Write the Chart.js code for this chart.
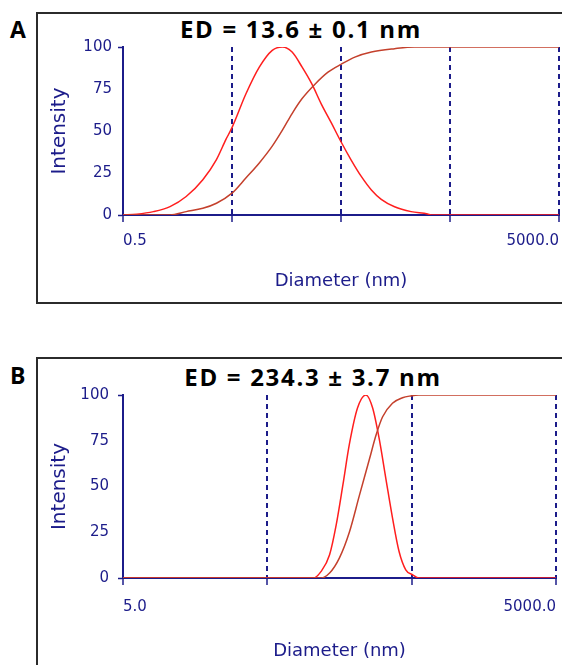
<!DOCTYPE html>
<html lang="en">
<head>
<meta charset="UTF-8">
<title>Size distribution</title>
<script src="https://cdn.jsdelivr.net/npm/chart.js"></script>
<style>
    body {
        margin: 0;
        width: 562px;
        height: 665px;
        overflow: hidden;
        background: #fff;
        position: relative;
        font-family: "Open Sans", Lato, sans-serif;
    }
    .box {
        position: absolute;
        left: 36px;
        width: 600px;
        border: 2px solid #2b2b2b;
        box-sizing: border-box;
    }
    #boxA { top: 12px; height: 292px; }
    #boxB { top: 357px; height: 400px; }
    .letter {
        position: absolute;
        left: 10px;
        font-weight: bold;
        font-size: 23px;
        line-height: 1;
    }
    .ed {
        position: absolute;
        font-weight: bold;
        font-size: 24px;
        letter-spacing: 1.7px;
        line-height: 1;
        white-space: nowrap;
        transform: translateX(-50%);
    }
    canvas { position: absolute; left: 0; }
</style>
</head>
<body>
    <div class="box" id="boxA"></div>
    <div class="box" id="boxB"></div>
    <div class="letter" style="top:18px">A</div>
    <div class="letter" style="top:364px">B</div>
    <div class="ed" style="left:301px; top:17px">ED = 13.6 ± 0.1 nm</div>
    <div class="ed" style="left:313px; top:365px">ED = 234.3 ± 3.7 nm</div>
    <canvas id="chartA" width="562" height="300" style="top:0"></canvas>
    <canvas id="chartB" width="562" height="315" style="top:350px"></canvas>

<script>
    // panel A (ED = 13.6 nm): intensity distribution and cumulative curve
    const diamA = [0.5, 0.67, 0.95, 1.35, 1.9, 2.7, 3.6, 4.4, 5, 6.7, 8.9, 11.7, 14.5, 17.8, 22, 27, 33, 41, 50, 62, 77, 95, 117, 155, 220, 312, 334, 5000];
    const intensA = [0, 0.5, 2, 5, 11, 21, 33, 45, 52, 72, 88, 98, 100, 97, 88, 78, 66, 54.5, 43.6, 32.7, 22.8, 14.9, 9.3, 4.9, 2, 0.6, 0, 0];
    const cumDiamA = [0.5, 1.35, 1.9, 2.7, 3.6, 5, 6.7, 8.9, 11.7, 14.5, 17.8, 22, 29, 38, 50, 67, 95, 155, 236, 5000];
    const cumA = [0, 0, 2, 4, 7, 13, 22, 31, 41, 50.5, 60.4, 69.3, 78, 85, 89.7, 94, 97, 99, 100, 100];
    const ticksA = [0.5, 5, 50, 500, 5000];

    // panel B (ED = 234.3 nm)
    const diamB = [5, 104, 118, 135, 150, 167, 185, 211, 241, 268, 298, 331, 368, 409, 455, 506, 562, 5000];
    const intensB = [0, 0, 3.6, 12.7, 29, 51, 73, 93, 100, 93, 76, 54.5, 33, 14.5, 4.5, 1.8, 0, 0];
    const cumDiamB = [5, 118, 135, 158, 185, 217, 255, 283, 314, 368, 432, 492, 560, 5000];
    const cumB = [0, 0, 2.7, 11, 25, 45, 65, 78, 88, 95.5, 98.5, 99.5, 100, 100];
    const ticksB = [5, 50, 500, 5000];

    const yTicks = [0, 25, 50, 75, 100];

    const navy = '#1c1c8a';
    const none = 'rgba(0,0,0,0)';

    function points(xs, ys) {
        return xs.map((x, i) => ({ x: x, y: ys[i] }));
    }

    function makeChart(id, o) {
        new Chart(document.getElementById(id), {
            type: 'line',
            data: {
                datasets: [
                    {
                        data: points(o.cumX, o.cumY),
                        borderColor: '#c4402c',
                        borderWidth: 1.5,
                        pointRadius: 0,
                        cubicInterpolationMode: 'monotone',
                        fill: false
                    },
                    {
                        data: points(o.distX, o.distY),
                        borderColor: '#ff1e1e',
                        borderWidth: 1.5,
                        pointRadius: 0,
                        cubicInterpolationMode: 'monotone',
                        fill: false
                    }
                ]
            },
            options: {
                responsive: false,
                animation: false,
                events: [],
                layout: { padding: { left: 40, top: o.top, right: o.right, bottom: 0 } },
                plugins: { legend: { display: false }, tooltip: { enabled: false } },
                scales: {
                    x: {
                        type: 'logarithmic',
                        min: o.ticks[0],
                        max: o.ticks[o.ticks.length - 1],
                        afterBuildTicks: s => { s.ticks = o.ticks.map(v => ({ value: v })); },
                        afterFit: s => {
                            s.height = o.xh;
                            // labels are aligned inside, no extra side room needed
                            s.paddingLeft = 0;
                            s.paddingRight = 0;
                        },
                        grid: {
                            color: c => c.index === 0 ? none : navy,
                            lineWidth: 2,
                            tickColor: navy,
                            tickWidth: 1.5,
                            tickLength: 7,
                            tickBorderDash: []
                        },
                        border: { color: navy, width: 2, dash: [5, 4] },
                        ticks: {
                            align: 'inner',
                            maxRotation: 0,
                            autoSkip: false,
                            padding: o.xpad,
                            color: navy,
                            font: { family: 'DejaVu Sans', size: 15 },
                            callback: (v, i, t) => (i === 0 || i === t.length - 1) ? o.ticks[i].toFixed(1) : ''
                        },
                        title: {
                            display: true,
                            text: 'Diameter (nm)',
                            color: navy,
                            font: { family: 'DejaVu Sans', size: 18 },
                            padding: { top: 0, bottom: o.tpad }
                        }
                    },
                    y: {
                        min: 0,
                        max: 100,
                        afterBuildTicks: s => { s.ticks = yTicks.map(v => ({ value: v })); },
                        afterFit: s => { s.width = 83; },
                        grid: {
                            drawOnChartArea: false,
                            tickLength: 5,
                            tickWidth: 1.5,
                            tickColor: c => (c.tick.value === 0 || c.tick.value === 100) ? navy : none
                        },
                        border: { color: navy, width: 2 },
                        ticks: {
                            padding: o.ypad,
                            color: navy,
                            font: { family: 'DejaVu Sans', size: 15 }
                        },
                        title: {
                            display: true,
                            text: 'Intensity',
                            color: navy,
                            font: { family: 'DejaVu Sans', size: 20 },
                            padding: { top: 8, bottom: 0 }
                        }
                    }
                }
            }
        });
    }

    makeChart('chartA', {
        distX: diamA, distY: intensA, cumX: cumDiamA, cumY: cumA, ticks: ticksA,
        top: 47, right: 3, xh: 85, xpad: 10, tpad: 8, ypad: 6
    });
    makeChart('chartB', {
        distX: diamB, distY: intensB, cumX: cumDiamB, cumY: cumB, ticks: ticksB,
        top: 45, right: 6, xh: 87, xpad: 13, tpad: 3, ypad: 9
    });
</script>
</body>
</html>
